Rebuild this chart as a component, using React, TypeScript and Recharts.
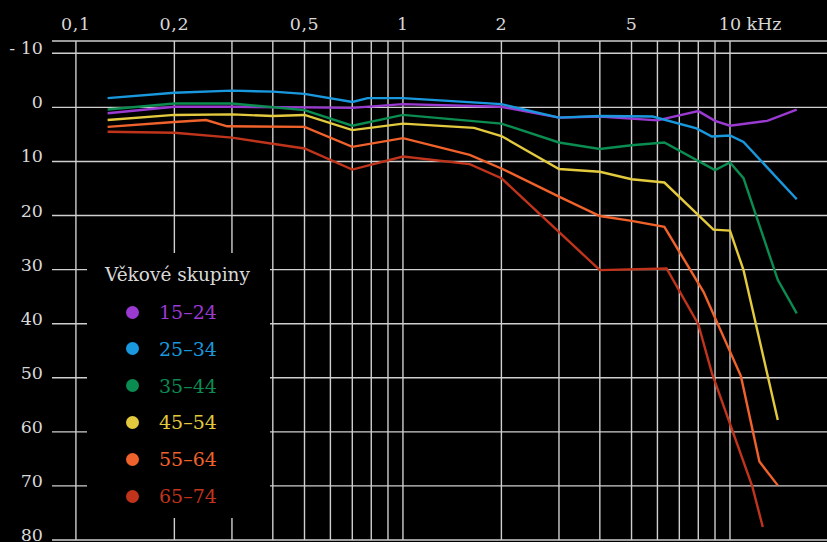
import { LineChart, Line, XAxis, YAxis, CartesianGrid, ReferenceLine } from "recharts";

// age groups and their colours
const groups = ["15–24", "25–34", "35–44", "45–54", "55–64", "65–74"];
const colors = ["#9a3ad1", "#1a98de", "#0b8c50", "#e2c93e", "#f0622b", "#c1341c"];

// frequency (kHz) and hearing threshold (dB) per age group
const f1524 = [0.125, 0.2, 0.3, 0.5, 0.7, 1, 2, 3, 4, 6, 8, 9, 10, 13, 16];
const db1524 = [1.1, -0.1, -0.1, 0, 0.1, -0.6, -0.1, 1.9, 1.7, 2.4, 0.7, 2.5, 3.4, 2.5, 0.4];

const f2534 = [0.125, 0.2, 0.3, 0.4, 0.5, 0.7, 0.78, 1, 2, 3, 4, 5.8, 7.9, 8.8, 10, 11, 16];
const db2534 = [-1.7, -2.7, -3.1, -2.9, -2.5, -1.0, -1.7, -1.7, -0.6, 1.9, 1.6, 1.7, 3.9, 5.4, 5.2, 6.4, 17.0];

const f3544 = [0.125, 0.2, 0.3, 0.5, 0.7, 1, 2, 3, 4, 5, 6.3, 9, 10, 11, 14, 16];
const db3544 = [0.4, -0.7, -0.7, 0.5, 3.4, 1.4, 3.0, 6.5, 7.7, 7.0, 6.5, 11.6, 10.2, 13.1, 31.9, 38.1];

const f4554 = [0.125, 0.2, 0.3, 0.4, 0.5, 0.7, 1, 1.65, 2, 3, 4, 5, 6.3, 8.9, 10, 11, 14];
const db4554 = [2.35, 1.4, 1.3, 1.6, 1.4, 4.2, 3.0, 3.8, 5.3, 11.4, 11.9, 13.3, 13.9, 22.6, 22.8, 30.1, 57.8];

const f5564 = [0.125, 0.2, 0.25, 0.29, 0.5, 0.7, 1, 1.6, 2, 3, 4, 5, 6.3, 8.3, 10.8, 12.3, 14];
const db5564 = [3.6, 2.7, 2.35, 3.5, 3.6, 7.3, 5.7, 8.8, 11.3, 16.5, 20.1, 21.0, 22.1, 34.1, 49.7, 65.5, 69.9];

const f6574 = [0.125, 0.2, 0.3, 0.5, 0.7, 1, 1.6, 2, 4, 6.4, 8, 8.8, 11.7, 12.6];
const db6574 = [4.5, 4.7, 5.6, 7.6, 11.5, 9.1, 10.5, 13.1, 30.1, 29.8, 40.1, 49.1, 70.1, 77.6];

const freqs = [f1524, f2534, f3544, f4554, f5564, f6574];
const levels = [db1524, db2534, db3544, db4554, db5564, db6574];

// axes
const xLabelTicks = [0.1, 0.2, 0.5, 1, 2, 5, 10];
const xGridLines = [0.1, 0.2, 0.3, 0.4, 0.5, 0.6, 0.7, 0.8, 0.9, 1, 2, 3, 4, 5, 6, 7, 8, 9, 10];
const yTicks = [-10, 0, 10, 20, 30, 40, 50, 60, 70, 80];

const series = groups.map((name, i) => ({
  name,
  color: colors[i],
  data: freqs[i].map((f, j) => ({ f, v: levels[i][j] })),
}));

const FONT = "'DejaVu Serif', serif";
const TEXT = "#d8d8d8";
const GRID = "#cfcfcf";

const XTick = ({ x, payload }: any) => {
  const v = payload.value;
  if (v === 10) {
    return (
      <g>
        <text x={x} y={29.5} textAnchor="middle" fill={TEXT} fontSize={17.5} fontFamily={FONT}>10</text>
        <text x={x + 16.5} y={29.5} textAnchor="start" fill={TEXT} fontSize={17.5} fontFamily={FONT}>kHz</text>
      </g>
    );
  }
  return (
    <text x={x} y={29.5} textAnchor="middle" fill={TEXT} fontSize={17.5} fontFamily={FONT} letterSpacing={0.6}>
      {String(v).replace(".", ",")}
    </text>
  );
};

// labels sit right-aligned just left of the grid, baseline on the line
const YTick = ({ y, payload }: any) => {
  const v = payload.value;
  return (
    <text x={43} y={y + 1} textAnchor="end" fill={TEXT} fontSize={17.5} fontFamily={FONT}>
      {v < 0 ? `- ${Math.abs(v)}` : v}
    </text>
  );
};

export default function App() {
  return (
    <div style={{ position: "fixed", left: 0, top: 0, width: 827, height: 542, background: "#000" }}>
      <LineChart width={827} height={542} margin={{ top: 0, right: 0, bottom: 2, left: 0 }}>
        <CartesianGrid vertical={false} stroke={GRID} strokeWidth={1.4} />
        <XAxis
          xAxisId={0}
          dataKey="f"
          type="number"
          scale="log"
          orientation="top"
          height={41}
          domain={[0.0845, 19.8]}
          allowDataOverflow
          ticks={xLabelTicks}
          axisLine={false}
          tickLine={false}
          tick={<XTick />}
          interval={0}
        />
        <YAxis
          yAxisId={0}
          type="number"
          width={52}
          domain={[-12.27, 80]}
          reversed
          allowDataOverflow
          ticks={yTicks}
          axisLine={false}
          tickLine={false}
          tick={<YTick />}
          interval={0}
        />
        {xGridLines.map((f) => (
          <ReferenceLine key={f} x={f} stroke={GRID} strokeWidth={1.4} ifOverflow="visible" />
        ))}
        {series.map((s) => (
          <Line
            key={s.name}
            data={s.data}
            dataKey="v"
            type="linear"
            stroke={s.color}
            strokeWidth={2.4}
            dot={false}
            activeDot={false}
            isAnimationActive={false}
          />
        ))}
      </LineChart>
      <div
        style={{
          position: "absolute",
          left: 87,
          top: 253,
          width: 183,
          height: 265,
          background: "#000",
          fontFamily: FONT,
        }}
      >
        <div style={{ position: "absolute", left: 18, top: 11, fontSize: 18.5, color: TEXT, whiteSpace: "nowrap" }}>
          Věkové skupiny
        </div>
        {series.map((s, i) => (
          <div key={s.name} style={{ position: "absolute", left: 39, top: 46 + i * 36.8, height: 26, display: "flex", alignItems: "center" }}>
            <span style={{ width: 13, height: 13, borderRadius: "50%", background: s.color, display: "inline-block" }} />
            <span style={{ marginLeft: 20, fontSize: 19, color: s.color, whiteSpace: "nowrap" }}>{s.name}</span>
          </div>
        ))}
      </div>
    </div>
  );
}
